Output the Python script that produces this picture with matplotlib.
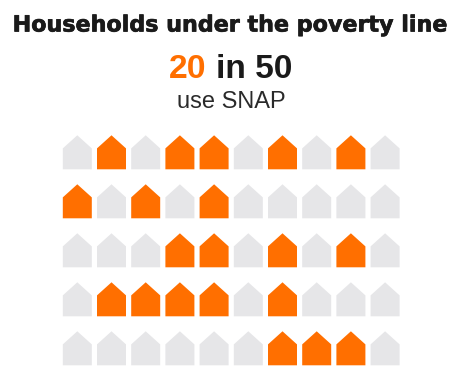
import numpy as np
import matplotlib
matplotlib.use("Agg")
from matplotlib import pyplot as plt
from matplotlib.patches import Polygon
import matplotlib.patheffects as pe

plt.rcParams["font.family"] = ["Liberation Sans", "DejaVu Sans"]

title = "Households under the poverty line"
count_label = "20"
rest_label = "in 50"
sub_label = "use SNAP"

## 1 = household uses SNAP
row1 = [0, 1, 0, 1, 1, 0, 1, 0, 1, 0]
row2 = [1, 0, 1, 0, 1, 0, 0, 0, 0, 0]
row3 = [0, 0, 0, 1, 1, 0, 1, 0, 1, 0]
row4 = [0, 1, 1, 1, 1, 0, 1, 0, 0, 0]
row5 = [0, 0, 0, 0, 0, 0, 1, 1, 1, 0]
rows = [row1, row2, row3, row4, row5]

W, H = 459, 384
ORANGE = "#ff6f00"
GREY = "#e6e6e8"
DARK = "#1a1a1a"

fig = plt.figure(figsize=(W/100, H/100), dpi=100)
ax = fig.add_axes([60.2/W, 1-372.8/H, 342/W, 245/H])
ax.set_xlim(-0.5, 9.5)
ax.set_ylim(4.5, -0.5)
ax.axis("off")

## house outline, in units of one grid cell
hw, top, shoulder, bottom = 0.424, -0.347, -0.08, 0.347
for r, row in enumerate(rows):
    for c, used in enumerate(row):
        pts = [(c-hw, r+bottom), (c-hw, r+shoulder), (c, r+top),
               (c+hw, r+shoulder), (c+hw, r+bottom)]
        ax.add_patch(Polygon(pts, closed=True, lw=0, color=ORANGE if used else GREY))

fig.text(230.5/W, 1-31.5/H, title, ha="center", va="baseline", fontsize=16, fontweight="bold",
         family="DejaVu Sans", color=DARK,
         path_effects=[pe.withStroke(linewidth=0.5, foreground=DARK)])
fig.text(169/W, 1-78/H, count_label, ha="left", va="baseline", fontsize=24.2, fontweight="bold", color=ORANGE)
fig.text(292/W, 1-78/H, rest_label, ha="right", va="baseline", fontsize=24, fontweight="bold", color=DARK)
fig.text(231/W, 1-108/H, sub_label, ha="center", va="baseline", fontsize=17, color="#2a2a2a")

fig.savefig("out.png", dpi=100)
